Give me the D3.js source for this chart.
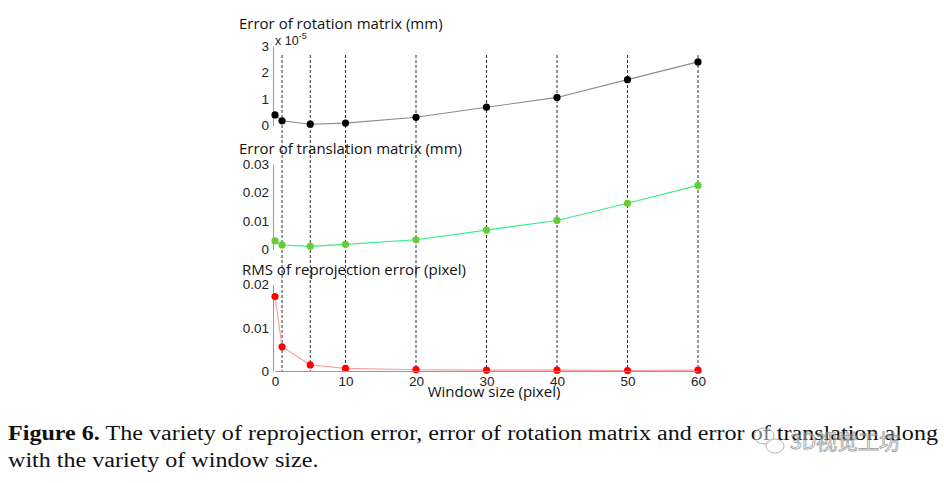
<!DOCTYPE html>
<html><head><meta charset="utf-8">
<script src="https://cdn.jsdelivr.net/npm/d3@7/dist/d3.min.js"></script>
<style>body{margin:0;background:#fff;}svg{display:block;}</style>
</head><body>
<svg id="c" width="944" height="483"></svg>
<script>
// ---- data ----
const windowSizes = [0, 1, 5, 10, 20, 30, 40, 50, 60];
const rotationError = [0.4e-5, 0.18e-5, 0.05e-5, 0.09e-5, 0.31e-5, 0.69e-5, 1.06e-5, 1.73e-5, 2.4e-5];
const translationError = [0.0030, 0.0016, 0.0011, 0.0018, 0.0034, 0.0068, 0.0102, 0.0162, 0.0225];
const rmsError = [0.0172, 0.0056, 0.0014, 0.0006, 0.0003, 0.0002, 0.0002, 0.0001, 0.0002];
const gridSizes = [1, 5, 10, 20, 30, 40, 50, 60];
const xTicks = [0, 10, 20, 30, 40, 50, 60];
const rotTicks = [0, 1, 2, 3];
const transTicks = [0, 0.01, 0.02, 0.03];
const rmsTicks = [0, 0.01, 0.02];
const titles = ["Error of rotation matrix (mm)", "Error of translation matrix (mm)", "RMS of reprojection error (pixel)"];
const xLabel = "Window size (pixel)";
const captionBold = "Figure 6.";
const captionLine1 = " The variety of reprojection error, error of rotation matrix and error of translation along";
const captionLine2 = "with the variety of window size.";
const watermark = "3D视觉工坊";

const svg = d3.select("#c");
const x = d3.scaleLinear().domain([0, 60]).range([275, 698]);

const panels = [
  {vals: rotationError, y: d3.scaleLinear().domain([0, 3e-5]).range([125.5, 46]), ticks: rotTicks.map(t => t * 1e-5), fmt: v => d3.format("d")(Math.round(v * 1e5)), line: "#8c8c8c", dot: "#000", title: titles[0], ty: 29, tx: 239},
  {vals: translationError, y: d3.scaleLinear().domain([0, 0.03]).range([249.5, 164]), ticks: transTicks, fmt: v => v === 0 ? "0" : d3.format(".2f")(v), line: "#33ee88", dot: "#66cc33", title: titles[1], ty: 154, tx: 239},
  {vals: rmsError, y: d3.scaleLinear().domain([0, 0.02]).range([371, 284.5]), ticks: rmsTicks, fmt: v => v === 0 ? "0" : d3.format(".2f")(v), line: "#ff9a9a", dot: "#ff0000", title: titles[2], ty: 275, tx: 242}
];

// dashed grid lines
svg.append("g").selectAll("line").data(gridSizes).join("line")
  .attr("x1", d => x(d)).attr("x2", d => x(d))
  .attr("y1", 55).attr("y2", 371)
  .attr("stroke", "#333").attr("stroke-width", 1).attr("stroke-dasharray", "3,2");

panels.forEach(p => {
  const g = svg.append("g");
  const ax = d3.axisLeft(p.y).tickValues(p.ticks).tickFormat(p.fmt).tickSize(0).tickPadding(4);
  const axg = g.append("g").attr("transform", `translate(${x(0) - 2},0)`).call(ax);
  axg.select(".domain").attr("stroke", "#999");
  axg.selectAll("text").attr("font-family", "Liberation Sans, Arial, sans-serif").attr("font-size", 13.5).attr("fill", "#222");
  g.append("path").datum(windowSizes.map((w, i) => [w, p.vals[i]]))
    .attr("fill", "none").attr("stroke", p.line).attr("stroke-width", 1.1)
    .attr("d", d3.line().x(d => x(d[0])).y(d => p.y(d[1])));
  g.selectAll("circle").data(windowSizes.map((w, i) => [w, p.vals[i]])).join("circle")
    .attr("cx", d => x(d[0])).attr("cy", d => p.y(d[1])).attr("r", 3.6).attr("fill", p.dot);
  g.append("text").attr("x", p.tx).attr("y", p.ty).text(p.title)
    .attr("font-family", "Open Sans, sans-serif").attr("font-size", 15).attr("fill", "#111");
});

// exponent label
const ex = svg.append("text").attr("x", 275).attr("y", 45)
  .attr("font-family", "Liberation Sans, Arial, sans-serif").attr("font-size", 12.5).attr("fill", "#222");
ex.append("tspan").text("x 10");
ex.append("tspan").attr("dy", -6).attr("font-size", 9).text("-5");

// bottom x axis
const xa = d3.axisBottom(x).tickValues(xTicks).tickFormat(d3.format("d")).tickSize(0).tickPadding(5);
const xg = svg.append("g").attr("transform", "translate(0,371)").call(xa);
xg.select(".domain").attr("stroke", "#999");
xg.selectAll("text").attr("font-family", "Liberation Sans, Arial, sans-serif").attr("font-size", 13.5).attr("fill", "#222");
svg.append("text").attr("x", 494).attr("y", 397).attr("text-anchor", "middle").text(xLabel)
  .attr("font-family", "Open Sans, sans-serif").attr("font-size", 15).attr("fill", "#111");

// caption
const cap1 = svg.append("text").attr("x", 8).attr("y", 440)
  .attr("font-family", "Liberation Serif, DejaVu Serif, serif").attr("font-size", 20).attr("fill", "#111");
cap1.append("tspan").attr("font-weight", "bold").text(captionBold);
cap1.append("tspan").text(captionLine1);
const cap2 = svg.append("text").attr("x", 8).attr("y", 467)
  .attr("font-family", "Liberation Serif, DejaVu Serif, serif").attr("font-size", 20).attr("fill", "#111").text(captionLine2);
const w1 = cap1.node().getComputedTextLength();
cap1.attr("textLength", 930).attr("lengthAdjust", "spacingAndGlyphs");
cap2.attr("textLength", cap2.node().getComputedTextLength() * 930 / w1).attr("lengthAdjust", "spacingAndGlyphs");

// watermark (semi-transparent overlay, as in the reference)
const wm = svg.append("g").attr("opacity", 0.75);
wm.append("ellipse").attr("cx", 764).attr("cy", 436).attr("rx", 10).attr("ry", 8)
  .attr("fill", "rgba(255,255,255,0.6)").attr("stroke", "#999").attr("stroke-width", 1);
wm.append("ellipse").attr("cx", 775).attr("cy", 446).attr("rx", 9).attr("ry", 7)
  .attr("fill", "rgba(255,255,255,0.6)").attr("stroke", "#999").attr("stroke-width", 1);
wm.append("text").attr("x", 790).attr("y", 449).text(watermark)
  .attr("font-family", "Noto Sans CJK SC, sans-serif").attr("font-size", 21)
  .attr("fill", "rgba(255,255,255,0.5)").attr("stroke", "#888").attr("stroke-width", 0.9);
</script>
</body></html>
